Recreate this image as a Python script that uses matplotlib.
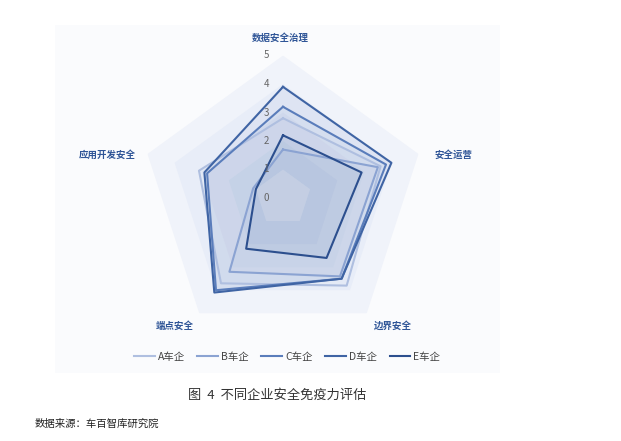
import numpy as np
import matplotlib
matplotlib.use('Agg')
import matplotlib.pyplot as plt
from matplotlib.patches import Rectangle

plt.rcParams['font.family'] = ['Noto Sans CJK SC', 'DejaVu Sans']

# indicators, counterclockwise from top
categories = ['数据安全治理', '应用开发安全', '端点安全', '边界安全', '安全运营']
series_names = ['A车企', 'B车企', 'C车企', 'D车企', 'E车企']
a_vals = [2.8, 3.1, 3.7, 3.8, 3.6]
b_vals = [1.7, 1.1, 3.2, 3.4, 3.5]
c_vals = [3.2, 2.8, 4.0, 3.5, 3.8]
d_vals = [3.9, 2.9, 4.1, 3.5, 4.0]
e_vals = [2.2, 1.0, 2.2, 2.6, 2.9]
ring_levels = [5, 4, 3, 2, 1]
tick_labels = ['0', '1', '2', '3', '4', '5']

series_vals = [a_vals, b_vals, c_vals, d_vals, e_vals]
series_colors = ['#afbfe0', '#8ba3d2', '#5a7dbb', '#3f64a4', '#2c4f8e']
ring_colors = ['#f0f3fa', '#e8edf8', '#e1e7f5', '#d9e1f2', '#e9edf7']

W, H = 621, 441
fig = plt.figure(figsize=(W / 100, H / 100), dpi=100)
fig.patch.set_facecolor('white')

# faint panel behind the chart
fig.patches.append(Rectangle((55 / W, 1 - 373 / H), 445 / W, 348 / H,
                             transform=fig.transFigure, facecolor='#fafbfd',
                             edgecolor='none', zorder=-5))

# polar axes centred at (283, 198) px, radius 142.5 px for value 5
cx, cy, R = 283, 198, 142.5
ax = fig.add_axes([(cx - R) / W, (H - cy - R) / H, 2 * R / W, 2 * R / H],
                  projection='polar')
ax.set_zorder(2)
ax.set_theta_offset(np.pi / 2)
ax.set_theta_direction(1)
ax.set_ylim(0, 5)
ax.set_facecolor('none')
ax.grid(False)
ax.spines['polar'].set_visible(False)
ax.set_xticks([])
ax.set_yticks([])

n = len(categories)
theta = np.linspace(0, 2 * np.pi, n, endpoint=False)
theta_c = np.append(theta, theta[0])

# split areas
for lvl, col in zip(ring_levels, ring_colors):
    ax.fill(theta_c, [lvl] * (n + 1), color=col, lw=0, zorder=1)

# series
for name, vals, col in zip(series_names, series_vals, series_colors):
    v = vals + vals[:1]
    ax.fill(theta_c, v, color=col, alpha=0.06, lw=0, zorder=2)
    ax.plot(theta_c, v, color=col, lw=1.5, label=name, zorder=3)

# value labels on the vertical axis
for i, t in enumerate(tick_labels):
    ax.annotate(t, xy=(0, i), xytext=(-12, 0), textcoords='offset points',
                ha='center', va='center', fontsize=7, color='#666666',
                annotation_clip=False, zorder=4)

# indicator names
offsets = [(-2, 12.5), (-29, -0.7), (-18, -9), (19, -9), (25, -0.7)]
for th, name, off in zip(theta, categories, offsets):
    ax.annotate(name, xy=(th, 5), xytext=off, textcoords='offset points',
                ha='center', va='center', fontsize=6.8, fontweight='bold',
                color='#2f5597', annotation_clip=False)

fig.legend(*ax.get_legend_handles_labels(), loc='center', ncol=5,
           bbox_to_anchor=(287 / W, 1 - 357 / H), frameon=False,
           fontsize=7.5, handlelength=2.0, handletextpad=0.3,
           columnspacing=1.2, labelcolor='#444444')

fig.text(277 / W, 1 - 395 / H, '图  4  不同企业安全免疫力评估', ha='center',
         va='center', fontsize=9.5, color='#333333')
fig.text(35 / W, 1 - 424 / H, '数据来源：车百智库研究院', ha='left',
         va='center', fontsize=7.5, color='#222222')

fig.savefig('out.png', dpi=100)
